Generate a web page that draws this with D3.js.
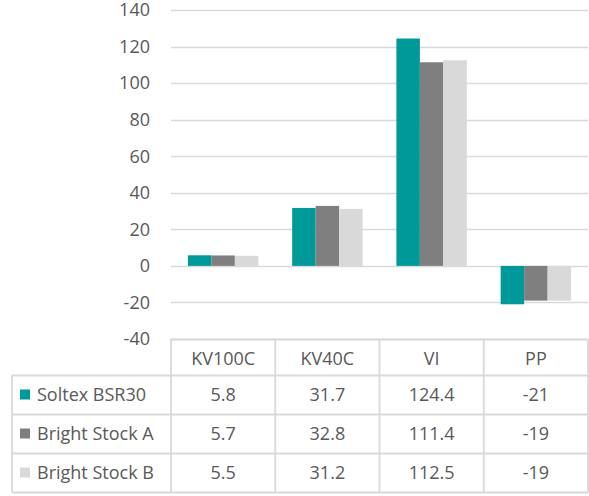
<!DOCTYPE html>
<html>
<head>
<meta charset="utf-8">
<script src="https://cdn.jsdelivr.net/npm/d3@7"></script>
<style>
  body { margin: 0; background: #fff; }
  text { font-family: "Open Sans", Lato, sans-serif; fill: #595959; }
</style>
</head>
<body>
<div id="chart"></div>
<script>
// categories and series
const categories = ['KV100C', 'KV40C', 'VI', 'PP'];
const seriesNames = ['Soltex BSR30', 'Bright Stock A', 'Bright Stock B'];
const soltex = [5.8, 31.7, 124.4, -21];
const brightA = [5.7, 32.8, 111.4, -19];
const brightB = [5.5, 31.2, 112.5, -19];
const yTicks = [-40, -20, 0, 20, 40, 60, 80, 100, 120, 140];
const colors = ['#009999', '#7f7f7f', '#d9d9d9'];

const seriesValues = [soltex, brightA, brightB];

const W = 589, H = 496;
const plotL = 171, plotR = 588, plotT = 10, plotB = 339;
const rowH = [36, 39, 39, 39];
const tableLeft = 12;
const fs = 18;

const svg = d3.select('#chart').append('svg').attr('width', W).attr('height', H);

const x = d3.scaleBand().domain(categories).range([plotL, plotR]);
const xs = d3.scaleBand().domain(seriesNames).range([0, x.bandwidth()]).paddingOuter(0.72).paddingInner(0);
const y = d3.scaleLinear().domain([-40, 140]).range([plotB, plotT]);

// gridlines
svg.append('g').selectAll('line').data(yTicks).join('line')
  .attr('x1', plotL).attr('x2', plotR)
  .attr('y1', d => Math.round(y(d)) + 0.5).attr('y2', d => Math.round(y(d)) + 0.5)
  .attr('stroke', '#d9d9d9').attr('stroke-width', 1.3);

// y tick labels
svg.append('g').selectAll('text').data(yTicks).join('text')
  .attr('x', 150).attr('y', d => y(d)).attr('dy', '0.35em')
  .attr('text-anchor', 'end').attr('font-size', fs)
  .text(d => d);

// bars
seriesNames.forEach((s, si) => {
  svg.append('g').selectAll('rect').data(seriesValues[si]).join('rect')
    .attr('x', (d, i) => x(categories[i]) + xs(s))
    .attr('width', xs.bandwidth())
    .attr('y', d => y(Math.max(0, d)))
    .attr('height', d => Math.abs(y(d) - y(0)))
    .attr('fill', colors[si]);
});

// data table
const tg = svg.append('g');
const gridColor = '#d9d9d9';
const rowTops = [plotB];
rowH.forEach(h => rowTops.push(rowTops[rowTops.length - 1] + h));
const tableBottom = rowTops[rowTops.length - 1];

// horizontal lines
rowTops.forEach((ry, i) => {
  tg.append('line')
    .attr('x1', i === 0 ? plotL : tableLeft).attr('x2', plotR)
    .attr('y1', ry + 0.5).attr('y2', ry + 0.5)
    .attr('stroke', gridColor).attr('stroke-width', 1.8);
});
// vertical lines
const xEdges = categories.map(c => x(c)).concat([plotR]);
xEdges.forEach(xe => {
  tg.append('line').attr('x1', xe).attr('x2', xe)
    .attr('y1', plotB).attr('y2', tableBottom)
    .attr('stroke', gridColor).attr('stroke-width', 1.8);
});
tg.append('line').attr('x1', tableLeft).attr('x2', tableLeft)
  .attr('y1', rowTops[1]).attr('y2', tableBottom)
  .attr('stroke', gridColor).attr('stroke-width', 1.8);

// header labels
tg.selectAll('.hdr').data(categories).join('text')
  .attr('x', d => x(d) + x.bandwidth() / 2)
  .attr('y', (rowTops[0] + rowTops[1]) / 2 + 2).attr('dy', '0.35em')
  .attr('text-anchor', 'middle').attr('font-size', fs)
  .text(d => d);

// series rows
seriesNames.forEach((s, si) => {
  const cy = (rowTops[si + 1] + rowTops[si + 2]) / 2;
  tg.append('rect').attr('x', 20).attr('y', cy - 5).attr('width', 10).attr('height', 10)
    .attr('fill', colors[si]);
  tg.append('text').attr('x', 37).attr('y', cy).attr('dy', '0.35em')
    .attr('font-size', fs).text(s);
  tg.selectAll(null).data(seriesValues[si]).join('text')
    .attr('x', (d, i) => x(categories[i]) + x.bandwidth() / 2)
    .attr('y', cy).attr('dy', '0.35em')
    .attr('text-anchor', 'middle').attr('font-size', fs)
    .text(d => d);
});
</script>
</body>
</html>
